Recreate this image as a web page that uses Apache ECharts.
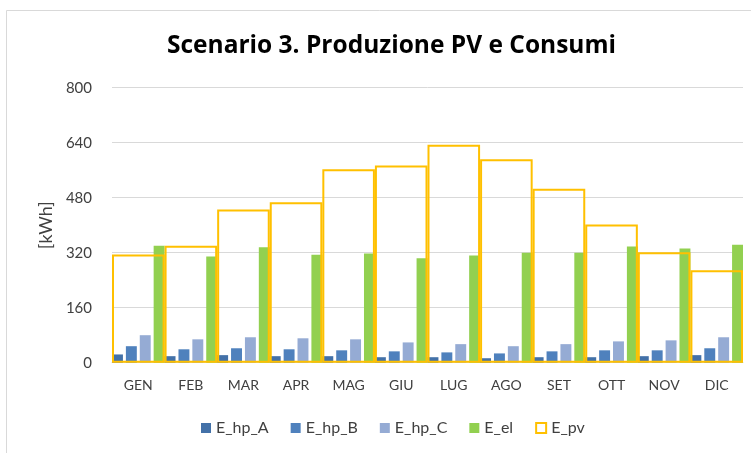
<!DOCTYPE html>
<html>
<head>
<meta charset="utf-8">
<script src="https://cdn.jsdelivr.net/npm/echarts@6/dist/echarts.min.js"></script>
<style>
  html, body { margin: 0; padding: 0; background: #ffffff; }
  #chart { width: 751px; height: 453px; }
</style>
</head>
<body>
<div id="chart"></div>
<script>
// Monthly categories
const months = ['GEN', 'FEB', 'MAR', 'APR', 'MAG', 'GIU', 'LUG', 'AGO', 'SET', 'OTT', 'NOV', 'DIC'];

// Heat pump consumption, three configurations [kWh]
const eHpA = [24, 19, 22, 19, 19, 16, 16, 13, 16, 16, 19, 22];
const eHpB = [48, 39, 42, 39, 36, 33, 30, 27, 33, 36, 36, 42];
const eHpC = [80, 68, 74, 71, 68, 59, 54, 48, 54, 62, 65, 74];

// Electrical consumption [kWh]
const eEl = [340, 309, 336, 314, 318, 304, 312, 320, 320, 338, 332, 343];

// PV production [kWh]
const ePv = [315, 340, 446, 467, 563, 574, 634, 592, 506, 402, 321, 269];

// Y axis ticks
const yMin = 0, yMax = 800, yStep = 160;

const FONT = 'Lato, "Open Sans", sans-serif';
const TEXT = '#404040';

const chart = echarts.init(document.getElementById('chart'), null, { renderer: 'canvas' });

const barBase = {
  type: 'bar',
  xAxisIndex: 0,
  yAxisIndex: 0,
  barCategoryGap: '0%',
  barGap: '27%',
  emphasis: { disabled: true }
};

chart.setOption({
  animation: false,
  backgroundColor: '#ffffff',
  textStyle: { fontFamily: FONT },
  graphic: [{
    type: 'rect',
    shape: { x: 6.5, y: 10.5, width: 800, height: 500 },
    style: { fill: 'none', stroke: '#d9d9d9', lineWidth: 1 },
    silent: true,
    z: -1
  }],
  title: {
    text: 'Scenario 3. Produzione PV e Consumi',
    left: 162,
    top: 29,
    textStyle: { fontFamily: '"Open Sans", sans-serif', fontSize: 24.5, fontWeight: 'bold', color: '#000000' }
  },
  legend: {
    bottom: 12,
    left: 196,
    itemWidth: 10,
    itemHeight: 10,
    itemGap: 22,
    textStyle: { fontFamily: FONT, fontSize: 16, color: TEXT },
    data: [
      { name: 'E_hp_A', icon: 'rect' },
      { name: 'E_hp_B', icon: 'rect' },
      { name: 'E_hp_C', icon: 'rect' },
      { name: 'E_el', icon: 'rect' },
      { name: 'E_pv', icon: 'rect', itemStyle: { color: '#ffffff', borderColor: '#ffc000', borderWidth: 2 } }
    ]
  },
  grid: { left: 112, right: 8, top: 87.7, bottom: 90.3, containLabel: false },
  xAxis: [{
    type: 'category',
    data: months,
    axisLine: { lineStyle: { color: '#d9d9d9' } },
    axisTick: { show: false },
    axisLabel: { fontFamily: FONT, fontSize: 14, color: TEXT, margin: 16 }
  }, {
    type: 'category',
    data: months,
    show: false
  }],
  yAxis: {
    type: 'value',
    min: yMin,
    max: yMax,
    interval: yStep,
    name: '[kWh]',
    nameLocation: 'middle',
    nameRotate: 90,
    nameGap: 54,
    nameTextStyle: { fontFamily: FONT, fontSize: 18, color: TEXT },
    axisLine: { show: false },
    axisTick: { show: false },
    axisLabel: { fontFamily: FONT, fontSize: 15, color: TEXT, margin: 20 },
    splitLine: { lineStyle: { color: '#d9d9d9', width: 1 } }
  },
  series: [
    Object.assign({}, barBase, { name: 'E_hp_A', data: eHpA, itemStyle: { color: '#4371a8' } }),
    Object.assign({}, barBase, { name: 'E_hp_B', data: eHpB, itemStyle: { color: '#4f81bd' } }),
    Object.assign({}, barBase, { name: 'E_hp_C', data: eHpC, itemStyle: { color: '#95abd4' } }),
    Object.assign({}, barBase, { name: 'E_el', data: eEl, itemStyle: { color: '#92d050' } }),
    {
      type: 'bar',
      name: 'E_pv',
      xAxisIndex: 1,
      yAxisIndex: 0,
      data: ePv,
      barWidth: '100%',
      z: 3,
      itemStyle: { color: 'rgba(0,0,0,0)', borderColor: '#ffc000', borderWidth: 2 },
      emphasis: { disabled: true }
    }
  ]
});
</script>
</body>
</html>
